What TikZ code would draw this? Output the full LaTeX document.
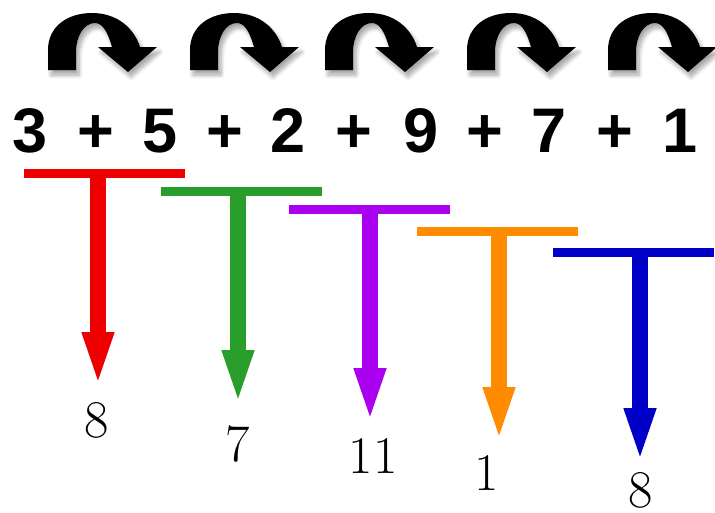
\documentclass[tikz,border=0pt]{standalone}
\usepackage{fontspec}
\newfontfamily\topfont{Liberation Sans}
\usetikzlibrary{arrows.meta,shadows.blur}
\definecolor{cRed}{RGB}{238,0,0}
\definecolor{cGreen}{RGB}{42,158,42}
\definecolor{cPurple}{RGB}{170,0,240}
\definecolor{cOrange}{RGB}{255,140,0}
\definecolor{cBlue}{RGB}{0,0,200}
\begin{document}
\begin{tikzpicture}[x=1pt,y=-1pt,
  curlarrow/.style={fill=black,
    blur shadow={shadow xshift=3pt,shadow yshift=-5pt,shadow blur steps=8,shadow opacity=35,shadow blur radius=4pt}},
  topnum/.style={anchor=base,inner sep=0pt,font=\topfont\bfseries\fontsize{63}{70}\selectfont},
  lab/.style={anchor=center,inner sep=0pt,font=\fontsize{53}{60}\selectfont},
  bar/.style={draw=none,minimum height=9pt,minimum width=161pt,inner sep=0pt},
  stem/.style={line width=16pt,-{Triangle[length=56pt,width=28pt]}}]
\useasboundingbox (0,0) rectangle (715,512);
% curved arrows
\foreach \dx in {0,142,277,419,560}{
  \fill[curlarrow,shift={(\dx,0)}]
    (48,70) -- (48,50) .. controls (48,26) and (68,13) .. (92,13)
    .. controls (117,13) and (134,28) .. (140,47) -- (157,47) -- (128,72)
    -- (98,47) -- (112,47) .. controls (108,33) and (103,23) .. (95,23)
    .. controls (84,23) and (76,36) .. (76,52) -- (76,70) -- cycle;
}
% top expression
\node[topnum] (n1) at (30,152) {3};
\node[topnum] (p1) at (96,152) {+};
\node[topnum] (n2) at (160,152) {5};
\node[topnum] (p2) at (225,152) {+};
\node[topnum] (n3) at (288,152) {2};
\node[topnum] (p3) at (354,152) {+};
\node[topnum] (n4) at (421,152) {9};
\node[topnum] (p4) at (485,152) {+};
\node[topnum] (n5) at (549,152) {7};
\node[topnum] (p5) at (615,152) {+};
\node[topnum] (n6) at (680,152) {1};
% bars
\node[bar,fill=cRed]    (b1) at (104.5,173) {};
\node[bar,fill=cGreen]  (b2) at (241,191) {};
\node[bar,fill=cPurple] (b3) at (369,209) {};
\node[bar,fill=cOrange] (b4) at (497,231) {};
\node[bar,fill=cBlue]   (b5) at (633,252) {};
% labels
\node[lab] (l1) at (97,420) {8};
\node[lab] (l2) at (238,444) {7};
\node[lab] (l3) at (373,456) {11};
\node[lab] (l4) at (487,473) {1};
\node[lab] (l5) at (641,490) {8};
% stem coordinates
\coordinate (t1) at (98,173);  \coordinate (e1) at (98,388);
\coordinate (t2) at (238,191); \coordinate (e2) at (238,406);
\coordinate (t3) at (370,209); \coordinate (e3) at (370,424);
\coordinate (t4) at (499,231); \coordinate (e4) at (499,443);
\coordinate (t5) at (640,252); \coordinate (e5) at (640,464);
\draw[stem,cRed]    (t1) -- (e1);
\draw[stem,cGreen]  (t2) -- (e2);
\draw[stem,cPurple] (t3) -- (e3);
\draw[stem,cOrange] (t4) -- (e4);
\draw[stem,cBlue]   (t5) -- (e5);
\end{tikzpicture}
\end{document}
